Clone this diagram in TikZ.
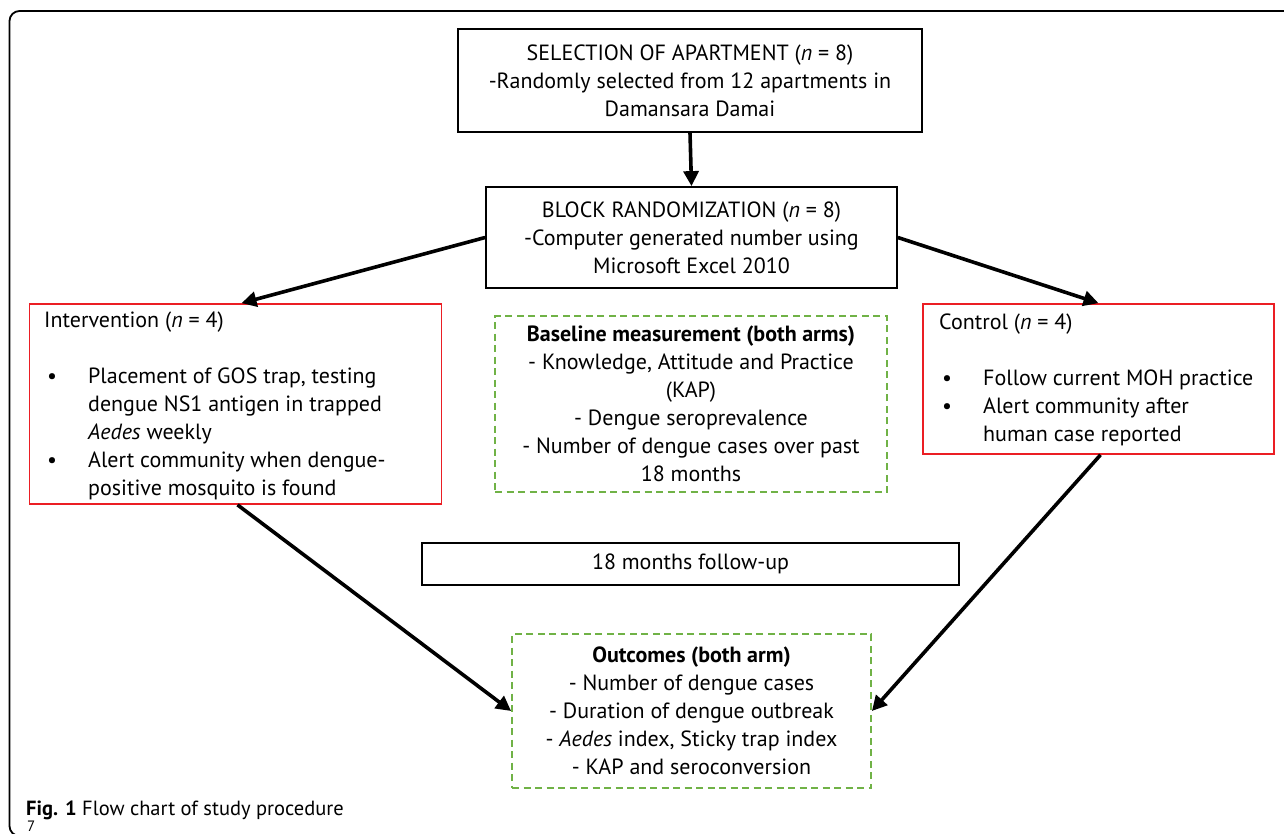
\documentclass[tikz,border=0pt]{standalone}
\usepackage{fontspec}
\setmainfont{PT Sans}
\usetikzlibrary{arrows.meta}
\definecolor{boxred}{RGB}{235,30,36}
\definecolor{boxgreen}{RGB}{112,178,70}
\tikzset{
  blackbox/.style={draw=black, line width=1.8pt, inner sep=0pt, align=center},
  redbox/.style={draw=boxred, line width=1.7pt, inner sep=0pt},
  greenbox/.style={draw=boxgreen, line width=1.8pt, dash pattern=on 7pt off 4.5pt, inner sep=0pt, align=center},
  txt/.style={inner sep=0pt, align=left, anchor=north west},
  flow/.style={line width=3.6pt, -{Triangle[length=15pt,width=15pt]}},
}
\newcommand{\bodyfont}{\fontsize{22}{27.9}\selectfont}
\newcommand{\bul}{\hspace*{3pt}\makebox[41pt][l]{•}}
\newcommand{\hang}{\hspace*{44pt}}
\begin{document}
\begin{tikzpicture}[x=1pt,y=-1pt, font=\bodyfont]
\useasboundingbox (0,0) rectangle (1284,833);
\draw[line width=1.8pt, rounded corners=10pt] (1300,11) -- (9.5,11) -- (9.5,836) -- (1300,836);

\node[blackbox, minimum width=464pt, minimum height=103pt] (sel) at (690,80.5)
  {SELECTION OF APARTMENT (\textit{n} = 8)\\-Randomly selected from 12 apartments in\\Damansara Damai};
\node[blackbox, minimum width=411pt, minimum height=101pt] (blk) at (691.5,237.5)
  {BLOCK RANDOMIZATION (\textit{n} = 8)\\-Computer generated number using\\Microsoft Excel 2010};

\node[redbox, minimum width=412pt, minimum height=200pt] (int) at (235.5,404) {};
\node[txt] (inttxt) at (44,312)
  {Intervention (\textit{n} = 4)\\ \mbox{}\\
   \bul Placement of GOS trap, testing\\
   \hang dengue NS1 antigen in trapped\\
   \hang \textit{Aedes} weekly\\
   \bul Alert community when dengue-\\
   \hang positive mosquito is found};

\node[greenbox, minimum width=392pt, minimum height=176pt] (base) at (691,404)
  {\textbf{Baseline measurement (both arms)}\\- Knowledge, Attitude and Practice\\(KAP)\\- Dengue seroprevalence\\- Number of dengue cases over past\\18 months};

\node[redbox, minimum width=351pt, minimum height=150pt] (ctl) at (1098.5,379) {};
\node[txt] (ctltxt) at (939,314)
  {Control (\textit{n} = 4)\\ \mbox{}\\
   \bul Follow current MOH practice\\
   \bul Alert community after\\
   \hang human case reported};

\node[blackbox, line width=1.6pt, minimum width=537pt, minimum height=42pt] (fup) at (690.5,564)
  {18 months follow-up};

\node[greenbox, minimum width=359pt, minimum height=154pt] (out) at (691.5,711)
  {\textbf{Outcomes (both arm)}\\- Number of dengue cases\\- Duration of dengue outbreak\\- \textit{Aedes} index, Sticky trap index\\- KAP and seroconversion};

\draw[flow] (sel.south) -- (blk.north);
\draw[flow] (blk.west) -- ([xshift=6pt]int.north);
\draw[flow] (blk.east) -- (ctl.north);
\draw[flow] ([xshift=2pt]int.south) -- (out.west);
\draw[flow] ([xshift=2pt]ctl.south) -- (out.east);

\node[inner sep=0pt, anchor=base west, font=\fontsize{20.5}{24}\selectfont] (cap) at (26,815)
  {\textbf{Fig. 1} Flow chart of study procedure};
\node[inner sep=0pt, anchor=north west, font=\fontsize{15}{18}\selectfont] (pg) at (27,821) {7};
\end{tikzpicture}
\end{document}
